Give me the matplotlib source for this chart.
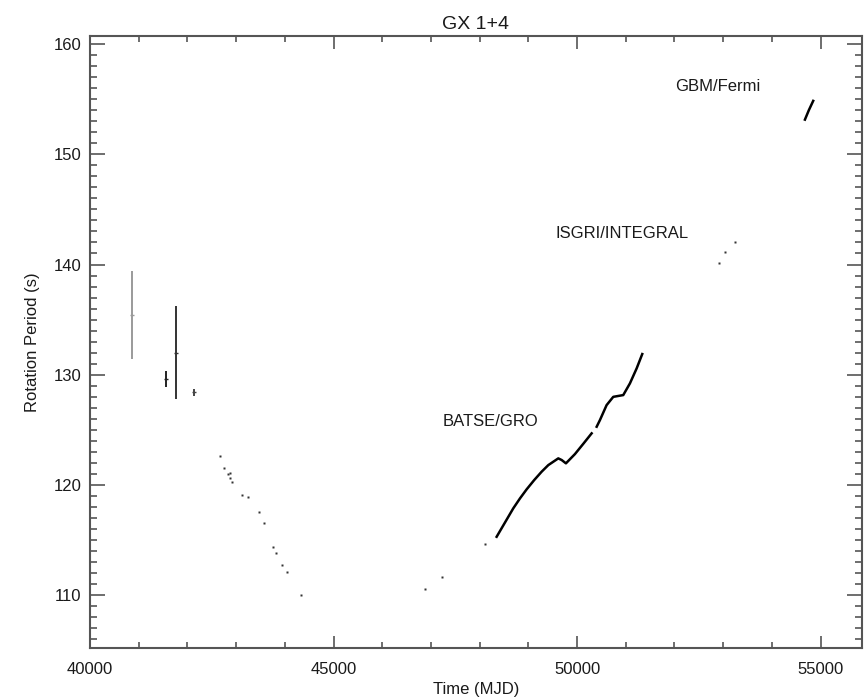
import matplotlib
matplotlib.use("Agg")
import matplotlib.pyplot as plt
from matplotlib.ticker import MultipleLocator

plt.rcParams['font.family'] = ['Liberation Sans', 'DejaVu Sans']

# Early pulse-period measurements with error bars (MJD, period, error)
early_mjd = [40868, 41759, 41566, 42135]
early_period = [135.4, 132.0, 129.6, 128.4]
early_err = [4.0, 4.2, 0.7, 0.3]
early_colors = ['#9a9a9a', '#333333', '#222222', '#444444']

# Scattered spin-down measurements
spin_mjd = [42669, 42757, 42840, 42880, 42920, 42870, 43114, 43237, 43463,
            43578, 43757, 43825, 43942, 44051, 44338, 46878, 47233, 48116]
spin_period = [122.66, 121.57, 121.0, 120.6, 120.3, 121.1, 119.07, 118.88,
               117.6, 116.6, 114.35, 113.83, 112.77, 112.14, 110.0, 110.54,
               111.66, 114.68]

# BATSE/GRO monitoring (two continuous stretches)
batse1_mjd = [48349, 48520, 48691, 48830, 48965, 49120, 49273, 49410, 49615,
              49685, 49772, 49957, 50130, 50300]
batse1_period = [115.31, 116.6, 117.89, 118.8, 119.61, 120.45, 121.21, 121.81,
                 122.42, 122.27, 121.97, 122.81, 123.75, 124.69]
batse2_mjd = [50403, 50470, 50607, 50744, 50949, 51086, 51224, 51339]
batse2_period = [125.29, 125.89, 127.25, 128.0, 128.16, 129.22, 130.58, 131.88]

# ISGRI/INTEGRAL
isgri_mjd = [52913, 53036, 53242]
isgri_period = [140.1, 141.1, 142.06]

# GBM/Fermi
gbm_mjd = [54679, 54760, 54849]
gbm_period = [153.14, 154.0, 154.84]

# Instrument labels (MJD, period, text)
label_text = ['BATSE/GRO', 'ISGRI/INTEGRAL', 'GBM/Fermi']
label_mjd = [48232, 50922, 52893]
label_period = [125.8, 142.85, 156.1]

fig = plt.figure(figsize=(8.67, 7.0), dpi=100)
ax = fig.add_axes([0.1038, 0.0747, 0.8901, 0.8743])

for m, p, e, c in zip(early_mjd, early_period, early_err, early_colors):
    ax.errorbar([m], [p], yerr=[e], fmt='_', color=c, ms=3, elinewidth=1.4,
                capsize=0)

ax.plot(spin_mjd, spin_period, 's', color='#333333', ms=1.8, mec='none')
ax.plot(batse1_mjd, batse1_period, '-', color='black', lw=1.8)
ax.plot(batse2_mjd, batse2_period, '-', color='black', lw=1.8)
ax.plot(isgri_mjd, isgri_period, 's', color='#333333', ms=1.8, mec='none')
ax.plot(gbm_mjd, gbm_period, '-', color='black', lw=1.8)

for t, m, p in zip(label_text, label_mjd, label_period):
    ax.text(m, p, t, fontsize=12, ha='center', va='center', color='#1a1a1a')

ax.set_xlim(40000, 55845)
ax.set_ylim(105.25, 160.75)
ax.xaxis.set_major_locator(MultipleLocator(5000))
ax.xaxis.set_minor_locator(MultipleLocator(1000))
ax.yaxis.set_major_locator(MultipleLocator(10))
ax.yaxis.set_minor_locator(MultipleLocator(1))

ax.tick_params(which='both', direction='in', top=True, right=True,
               color='#555555', labelsize=12, labelcolor='#1a1a1a')
ax.tick_params(axis='x', which='major', length=9, width=1.2, pad=10)
ax.tick_params(axis='x', which='minor', length=4, width=1.2)
ax.tick_params(axis='y', which='major', length=11, width=1.2, pad=6)
ax.tick_params(axis='y', which='minor', length=5, width=1.2)
for s in ax.spines.values():
    s.set_color('#555555')
    s.set_linewidth(1.5)

ax.set_xlabel('Time (MJD)', fontsize=12, labelpad=4, color='#1a1a1a')
ax.set_ylabel('Rotation Period (s)', fontsize=12, labelpad=10, color='#1a1a1a')
ax.set_title('GX 1+4', fontsize=14, pad=5, color='#1a1a1a')

fig.savefig('out.png', dpi=100)
